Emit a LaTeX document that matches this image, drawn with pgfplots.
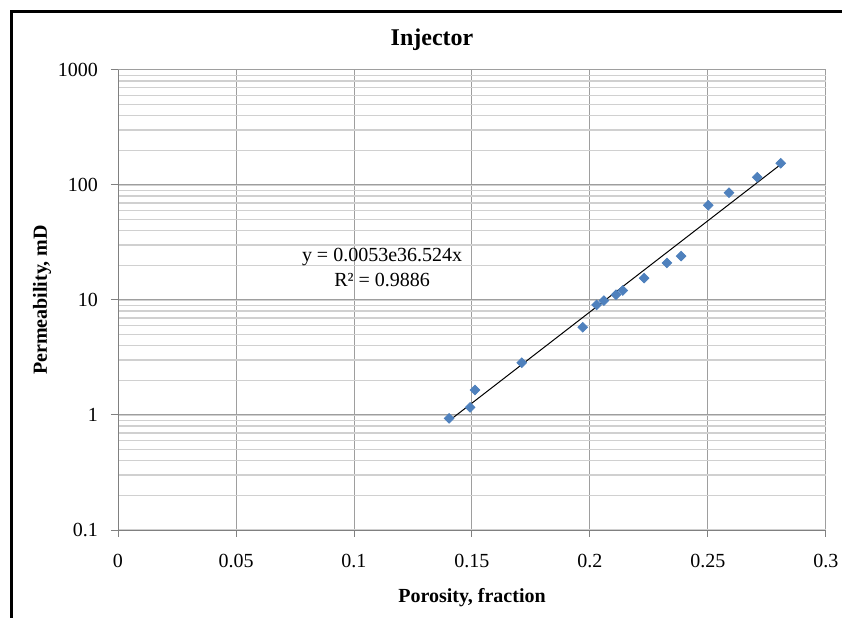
\documentclass[border=0pt]{standalone}
\usepackage{fontspec}
\setmainfont{Liberation Serif}
\usepackage{pgfplots}
\pgfplotsset{compat=1.18}
\definecolor{ptblue}{HTML}{4F81BD}
\definecolor{majgrid}{HTML}{9E9E9E}
\definecolor{mingrid}{HTML}{D0D0D0}

\begin{document}
\begin{tikzpicture}
\useasboundingbox (0,0) rectangle (421pt,308.5pt);
% frame of the chart area (cropped on right and bottom)
\draw[line width=1.5pt] (5.85pt,-2pt) -- (5.85pt,302.65pt) -- (425pt,302.65pt);
\node[font=\bfseries\fontsize{12}{14}\selectfont] at (216pt,288.5pt) {Injector};

\begin{axis}[
  at={(59pt,43.5pt)}, anchor=south west,
  width=354pt, height=230pt, scale only axis,
  xmin=0, xmax=0.3,
  ymode=log, ymin=0.1, ymax=1000,
  xtick={0,0.05,0.1,0.15,0.2,0.25,0.3},
  xticklabels={0,0.05,0.1,0.15,0.2,0.25,0.3},
  ytick={0.1,1,10,100,1000},
  yticklabels={0.1,1,10,100,1000},
  axis x line*=bottom, axis y line*=left,
  axis line style={draw=gray, line width=0.5pt},
  grid=both,
  major grid style={draw=majgrid, line width=0.5pt},
  minor grid style={draw=mingrid, line width=0.7pt},
  tick align=outside,
  major tick length=3.5pt, minor tick length=0pt,
  tick style={draw=gray, line width=0.5pt},
  tick label style={font=\fontsize{10}{12}\selectfont},
  xticklabel style={yshift=-5pt},
  yticklabel style={xshift=-3pt},
  xlabel={Porosity, fraction},
  ylabel={Permeability, mD},
  label style={font=\bfseries\fontsize{10}{12}\selectfont},
  xlabel style={at={(axis description cs:0.5,-0.148)}, anchor=center},
  ylabel style={at={(axis description cs:-0.1073,0.5)}, anchor=center, rotate=0},
  clip=false,
]
\addplot[only marks, mark=square*, mark size=1.7pt,
  mark options={rotate=45, fill=ptblue, draw=ptblue}] coordinates {
  (0.1403,0.936) (0.1492,1.167) (0.1513,1.65) (0.1711,2.85)
  (0.1969,5.79) (0.2028,9.05) (0.2059,9.86) (0.2110,11.1)
  (0.2139,12.1) (0.2229,15.5) (0.2326,21.0) (0.2386,24.1)
  (0.2501,66.6) (0.2589,85.8) (0.2709,116.7) (0.2808,154.5)
};
\addplot[black, line width=0.5pt, no marks] coordinates {
  (0.1403,0.891) (0.2808,150.8)
};
\node[align=center, font=\fontsize{10}{12.5}\selectfont] at (axis cs:0.1119,19.2)
  {y = 0.0053e36.524x\\R² = 0.9886};
\end{axis}
\end{tikzpicture}
\end{document}
